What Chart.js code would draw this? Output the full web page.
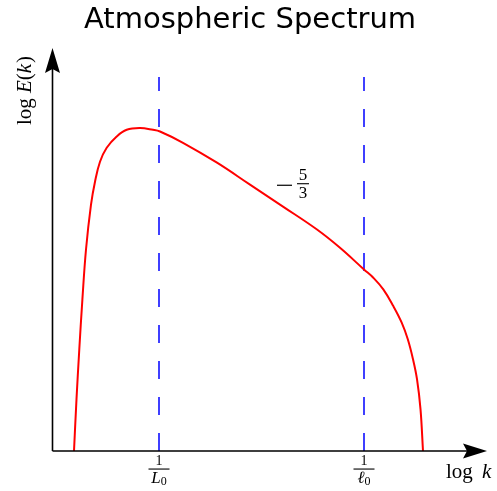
<!DOCTYPE html>
<html lang="en">
<head>
  <meta charset="UTF-8">
  <title>Atmospheric Spectrum</title>
  <script src="https://cdn.jsdelivr.net/npm/chart.js"></script>
  <style>
    body { margin: 0; background: #fff; }
  </style>
</head>
<body>
  <canvas id="spectrum" width="497" height="491"></canvas>
  <script>
    // spectrum (log k, log E(k), arbitrary units)
    const logK = [0.22, 0.245, 0.273, 0.304, 0.34, 0.39, 0.43, 0.48, 0.547, 0.647, 0.747, 0.88, 1.01, 1.08, 1.31, 1.65, 1.98, 2.31, 2.65, 2.88, 3.12, 3.213, 3.313, 3.413, 3.497, 3.558, 3.61, 3.65, 3.685, 3.71];
    const logE = [0, 0.52, 1.02, 1.52, 2.02, 2.47, 2.70, 2.90, 3.04, 3.153, 3.22, 3.237, 3.22, 3.203, 3.09, 2.89, 2.67, 2.45, 2.22, 2.037, 1.82, 1.737, 1.62, 1.453, 1.287, 1.12, 0.92, 0.72, 0.42, 0];

    // the two scales 1/L0 and 1/l0
    const tickValues = [1.07, 3.12];
    const tickDenoms = ['L', 'ℓ'];
    const cutoffTop = 3.75;

    // where the -5/3 slope note sits
    const slopeLabel = { x: 2.38, y: 2.67 };

    const xMax = 4.33;
    const yMax = 4.02;

    function drawFrac(ctx, cx, barY, num, den, numSize, denSize, barW, sub) {
      ctx.textAlign = 'center';
      ctx.textBaseline = 'middle';
      ctx.font = numSize + 'px "Liberation Serif"';
      ctx.fillText(num, cx, barY - 8);
      ctx.fillRect(cx - barW / 2, barY - 0.5, barW, 1.1);
      if (sub) {
        ctx.font = 'italic ' + denSize + 'px "Liberation Serif"';
        const w = ctx.measureText(den).width;
        ctx.fillText(den, cx - 3, barY + 10);
        ctx.font = '12px "Liberation Serif"';
        ctx.textAlign = 'left';
        ctx.fillText('0', cx - 3 + w / 2, barY + 13);
      } else {
        ctx.font = denSize + 'px "Liberation Serif"';
        ctx.fillText(den, cx, barY + 10);
      }
    }

    const decor = {
      id: 'decor',
      afterDraw(chart) {
        const ctx = chart.ctx;
        const a = chart.chartArea;
        const xs = chart.scales.x, ys = chart.scales.y;
        ctx.save();
        ctx.fillStyle = '#000';
        ctx.strokeStyle = '#000';

        // title
        ctx.font = '29px "DejaVu Sans"';
        ctx.textAlign = 'center';
        ctx.textBaseline = 'alphabetic';
        ctx.fillText('Atmospheric Spectrum', 250, 28);

        // axes with arrows
        const ox = a.left + 0.5, oy = a.bottom;
        ctx.lineWidth = 1.6;
        ctx.beginPath();
        ctx.moveTo(ox, oy);
        ctx.lineTo(a.right - 16, oy);
        ctx.moveTo(ox, oy);
        ctx.lineTo(ox, a.top + 18);
        ctx.stroke();

        ctx.beginPath();
        ctx.moveTo(a.right + 2, oy);
        ctx.lineTo(a.right - 22, oy - 7.5);
        ctx.lineTo(a.right - 18, oy);
        ctx.lineTo(a.right - 22, oy + 7.5);
        ctx.closePath();
        ctx.fill();

        ctx.beginPath();
        ctx.moveTo(ox, a.top - 2);
        ctx.lineTo(ox - 7.5, a.top + 23);
        ctx.lineTo(ox, a.top + 19);
        ctx.lineTo(ox + 7.5, a.top + 23);
        ctx.closePath();
        ctx.fill();

        // tick fractions
        tickValues.forEach((v, i) => {
          drawFrac(ctx, xs.getPixelForValue(v), oy + 18, '1', tickDenoms[i], 14, 17, 21, true);
        });

        // axis titles
        ctx.textBaseline = 'alphabetic';
        ctx.textAlign = 'left';
        ctx.font = '21px "Liberation Serif"';
        ctx.fillText('log', 446, 478);
        ctx.font = 'italic 21px "Liberation Serif"';
        ctx.fillText('k', 482, 478);

        ctx.save();
        ctx.translate(31, 91);
        ctx.rotate(-Math.PI / 2);
        ctx.textAlign = 'left';
        const parts = [['log ', false], ['E', true], ['(', false], ['k', true], [')', false]];
        let total = 0;
        parts.forEach(p => {
          ctx.font = (p[1] ? 'italic ' : '') + '21px "Liberation Serif"';
          total += ctx.measureText(p[0]).width;
        });
        let px = -total / 2;
        parts.forEach(p => {
          ctx.font = (p[1] ? 'italic ' : '') + '21px "Liberation Serif"';
          ctx.fillText(p[0], px, 0);
          px += ctx.measureText(p[0]).width + (p[0] === 'k' ? 1 : 0);
        });
        ctx.restore();

        // slope note
        const sx = xs.getPixelForValue(slopeLabel.x);
        const sy = ys.getPixelForValue(slopeLabel.y);
        ctx.fillRect(sx - 13, sy, 15, 1.2);
        drawFrac(ctx, sx + 13, sy - 1, '5', '3', 17, 17, 12, false);

        ctx.restore();
      }
    };

    const curve = logK.map((x, i) => ({ x: x, y: logE[i] }));
    const cutoffSets = tickValues.map(v => ({
      data: [{ x: v, y: 0 }, { x: v, y: cutoffTop }],
      borderColor: '#0000ff',
      borderWidth: 1.5,
      borderDash: [18, 18],
      pointRadius: 0,
      showLine: true
    }));

    new Chart(document.getElementById('spectrum'), {
      type: 'scatter',
      data: {
        datasets: [{
          data: curve,
          borderColor: '#ff0000',
          borderWidth: 2,
          pointRadius: 0,
          showLine: true,
          tension: 0.4
        }].concat(cutoffSets)
      },
      options: {
        responsive: false,
        animation: false,
        layout: { padding: { left: 52, right: 12, top: 50, bottom: 40 } },
        scales: {
          x: { type: 'linear', min: 0, max: xMax, display: false },
          y: { type: 'linear', min: 0, max: yMax, display: false }
        },
        plugins: {
          legend: { display: false },
          tooltip: { enabled: false }
        }
      },
      plugins: [decor]
    });
  </script>
</body>
</html>
